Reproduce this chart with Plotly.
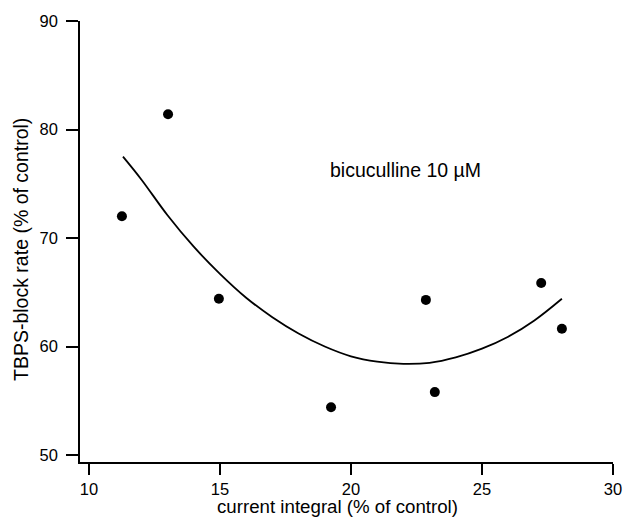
import plotly.graph_objects as go

# Data points (current integral %, TBPS-block rate %)
x_points = [11.26, 13.02, 14.96, 19.24, 22.86, 23.2, 27.26, 28.05]
y_points = [72.0, 81.4, 64.4, 54.4, 64.3, 55.8, 65.85, 61.64]

# Fitted curve
x_curve = [11.3, 12.0, 13.0, 14.0, 15.0, 16.0, 17.0, 18.0, 19.0, 20.0, 21.0, 22.0, 23.0, 24.0, 25.0, 26.0, 27.0, 28.05]
y_curve = [77.5, 75.4, 72.1, 69.2, 66.7, 64.5, 62.7, 61.2, 60.0, 59.1, 58.6, 58.4, 58.5, 59.0, 59.8, 60.9, 62.4, 64.4]

x_ticks = [10, 15, 20, 25, 30]
y_ticks = [50, 60, 70, 80, 90]

annot_text = "bicuculline 10 µM"
x_title = "current integral (% of control)"
y_title = "TBPS-block rate (% of control)"

FONT = "Liberation Sans, Arial, Helvetica, sans-serif"

fig = go.Figure()
fig.add_trace(go.Scatter(x=x_curve, y=y_curve, mode="lines",
                         line=dict(color="black", width=1.8, shape="spline"),
                         showlegend=False, hoverinfo="skip"))
fig.add_trace(go.Scatter(x=x_points, y=y_points, mode="markers",
                         marker=dict(color="black", size=10),
                         showlegend=False))

fig.add_annotation(x=19.12, y=76.25, text=annot_text, showarrow=False,
                   xanchor="left", yanchor="middle",
                   font=dict(family=FONT, size=19.5, color="black"))

fig.add_annotation(xref="paper", yref="paper", x=0.483, y=-0.102, text=x_title,
                   showarrow=False, xanchor="center", yanchor="middle",
                   font=dict(family=FONT, size=18.7, color="black"))
fig.add_annotation(xref="paper", yref="paper", x=-0.1107, y=0.483, text=y_title,
                   showarrow=False, xanchor="center", yanchor="middle", textangle=-90,
                   font=dict(family=FONT, size=19.5, color="black"))

fig.update_layout(
    width=623, height=519,
    margin=dict(l=80, r=10, t=21, b=57),
    plot_bgcolor="white", paper_bgcolor="white",
    font=dict(family=FONT, size=16, color="black"),
    xaxis=dict(range=[9.66, 30], tickvals=x_ticks, showgrid=False, zeroline=False,
               showline=True, linecolor="black", linewidth=1.5, automargin=False,
               ticks="outside", ticklen=11, tickwidth=1.5, tickcolor="black",
               tickfont=dict(size=16.5)),
    yaxis=dict(range=[49.36, 90], tickvals=y_ticks, showgrid=False, zeroline=False,
               showline=True, linecolor="black", linewidth=1.5, automargin=False,
               ticks="outside", ticklen=12, tickwidth=1.5, tickcolor="black",
               tickfont=dict(size=16.5), ticklabelstandoff=5),
)

fig.write_html("out.html")
